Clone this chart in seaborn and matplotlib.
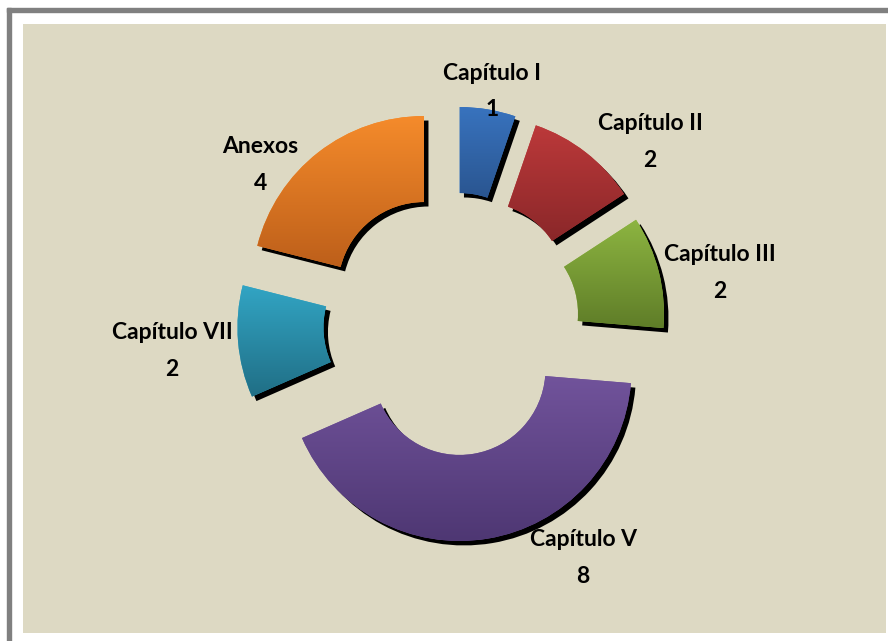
import matplotlib
matplotlib.use("Agg")
import matplotlib.pyplot as plt
import matplotlib.colors as mcolors
import numpy as np
import seaborn as sns

# datos del grafico
capitulos = ["Capítulo I", "Capítulo II", "Capítulo III", "Capítulo V", "Capítulo VII", "Anexos"]
paginas = [1, 2, 2, 8, 2, 4]

# colores (arriba, abajo) de cada degradado
color_top = ["#3873BE", "#BC393A", "#8DB541", "#71539B", "#32A5C4", "#F58B2B"]
color_bot = ["#2A5590", "#8A2729", "#5F7D28", "#4E3773", "#206E85", "#BD5F1A"]

# posicion de las etiquetas (unidades de datos)
label_pos = [(0.233, 1.350), (1.151, 1.058), (1.558, 0.296),
             (0.762, -1.361), (-1.628, -0.157), (-1.116, 0.924)]

sns.set_theme(style="white")
plt.rcParams["font.family"] = ["Lato", "DejaVu Sans"]

fig = plt.figure(figsize=(8.88, 6.41), dpi=100)
fig.patch.set_facecolor("white")

# marco gris exterior
fig.patches.append(plt.Rectangle((7 / 888, 0), 4 / 888, (641 - 8) / 641,
                                 transform=fig.transFigure, color="#808080", zorder=0))
fig.patches.append(plt.Rectangle((7 / 888, (641 - 12) / 641), 1 - 7 / 888, 4 / 641,
                                 transform=fig.transFigure, color="#808080", zorder=0))

ax = fig.add_axes([23 / 888, 8 / 641, 863 / 888, 609 / 641])
ax.set_facecolor("#DDD9C3")

explode = [0.265, 0.265, 0.24, 0.265, 0.248, 0.265]
sh = 0.026

# sombra negra
ax.pie(paginas, radius=1, startangle=90, counterclock=False, explode=explode,
       center=(sh, -sh), colors=["black"] * len(paginas), frame=True,
       wedgeprops=dict(width=0.5, linewidth=0))

wedges, _ = ax.pie(paginas, radius=1, startangle=90, counterclock=False, explode=explode,
                   colors=color_top, frame=True, wedgeprops=dict(width=0.5, linewidth=0))

for w, c1, c2 in zip(wedges, color_top, color_bot):
    x0, y0, x1, y1 = w.get_path().get_extents().extents
    cmap = mcolors.LinearSegmentedColormap.from_list("g", [c2, c1])
    grad = np.linspace(0, 1, 256).reshape(-1, 1)
    im = ax.imshow(grad, cmap=cmap, extent=[x0, x1, y0, y1], origin="lower",
                   aspect="auto", zorder=3)
    im.set_clip_path(w)

for nombre, v, (x, y) in zip(capitulos, paginas, label_pos):
    ax.text(x, y, f"{nombre}\n{v}", ha="center", va="center", fontsize=16.5,
            fontweight="bold", color="black", linespacing=1.9, zorder=5)

ax.set_xlim(-429 / 172, 434 / 172)
ax.set_ylim(-309 / 172, 300 / 172)
ax.set_aspect("auto")
ax.set_xticks([])
ax.set_yticks([])
for s in ax.spines.values():
    s.set_visible(False)

fig.savefig("out.png", dpi=100)
